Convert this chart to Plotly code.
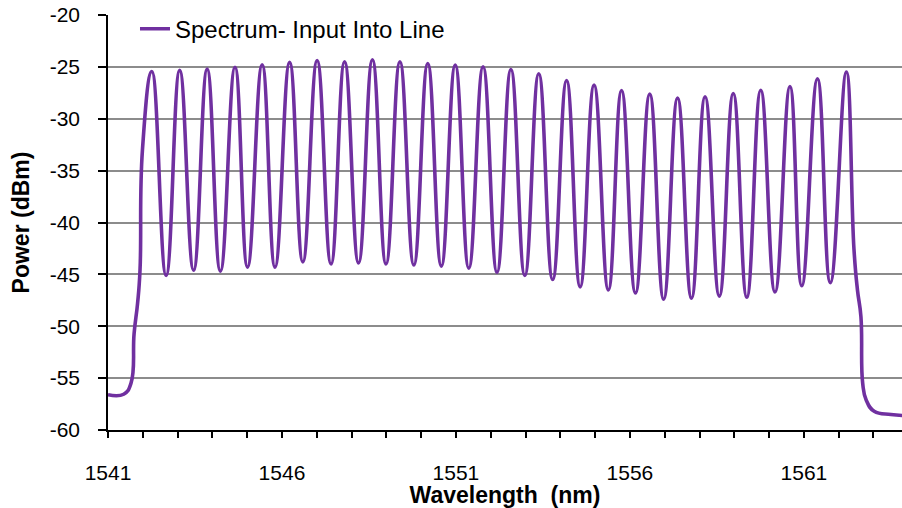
import plotly.graph_objects as go

# Edge of the band (rising side)
rise_x = [1541.0, 1541.45, 1541.66, 1541.75, 1541.85, 1541.92, 1541.99]
rise_y = [-56.6, -56.55, -55.5, -50.7, -47.8, -44.6, -33.0]

# Channel peaks
peak_x = [1542.26, 1543.06, 1543.85, 1544.65, 1545.43, 1546.22, 1547.01, 1547.80,
          1548.60, 1549.39, 1550.19, 1550.98, 1551.78, 1552.58, 1553.38, 1554.18,
          1554.97, 1555.76, 1556.57, 1557.37, 1558.16, 1558.97, 1559.76, 1560.60,
          1561.39, 1562.22]
peak_y = [-25.44, -25.34, -25.22, -25.03, -24.80, -24.57, -24.38, -24.51,
          -24.32, -24.51, -24.67, -24.83, -24.99, -25.25, -25.66, -26.31,
          -26.76, -27.27, -27.63, -28.00, -27.88, -27.56, -27.25, -26.89,
          -26.14, -25.50]

# Troughs between channels
trough_x = [1542.67, 1543.46, 1544.23, 1545.01, 1545.80, 1546.60, 1547.41, 1548.20,
            1548.99, 1549.79, 1550.58, 1551.37, 1552.18, 1552.98, 1553.78, 1554.57,
            1555.38, 1556.16, 1556.97, 1557.77, 1558.57, 1559.36, 1560.17, 1560.94,
            1561.76]
trough_y = [-45.1, -44.6, -44.7, -44.3, -44.3, -43.8, -44.0, -43.9,
            -44.0, -44.1, -44.2, -44.4, -44.8, -45.1, -45.5, -46.2,
            -46.5, -46.8, -47.4, -47.3, -47.1, -47.2, -46.7, -46.1,
            -45.8]

# Falling edge of the band
fall_x = [1562.44, 1562.54, 1562.64, 1562.69, 1562.79, 1563.02, 1563.5, 1563.84]
fall_y = [-42.6, -46.5, -49.1, -55.5, -57.1, -58.2, -58.5, -58.6]

# assemble the trace from the read points (peak / trough alternate)
xs, ys = list(rise_x), list(rise_y)
for i in range(len(peak_x)):
    xs.append(peak_x[i]); ys.append(peak_y[i])
    if i < len(trough_x):
        xs.append(trough_x[i]); ys.append(trough_y[i])
xs += fall_x
ys += fall_y

x_ticks = [1541, 1546, 1551, 1556, 1561]
y_ticks = [-60, -55, -50, -45, -40, -35, -30, -25, -20]
y_tick_text = ["-60", "-55", "-50", "-45", "-40", "-35", "-30", "-25", "-20"]

FONT = "Arial, Liberation Sans, sans-serif"
PURPLE = "#7030A0"

fig = go.Figure()
fig.add_trace(go.Scatter(
    x=xs, y=ys, mode="lines", name="Spectrum- Input Into Line",
    line=dict(color=PURPLE, width=3.6, shape="spline", smoothing=1.3),
))

fig.update_layout(
    width=902, height=508,
    margin=dict(l=108, r=0, t=15, b=78, autoexpand=False),
    paper_bgcolor="white", plot_bgcolor="white",
    font=dict(family=FONT, color="black"),
    showlegend=True,
    legend=dict(x=0.034, y=1.02, xanchor="left", yanchor="top",
                bgcolor="rgba(0,0,0,0)", font=dict(size=24, family=FONT),
                borderwidth=0, tracegroupgap=0),
)

fig.update_xaxes(
    range=[1541, 1563.82], automargin=False,
    tickvals=x_ticks, ticktext=[str(v) for v in x_ticks],
    ticks="outside", ticklen=6, tickwidth=1.5, tickcolor="black",
    minor=dict(dtick=1, tick0=1541, ticks="outside", ticklen=6, tickwidth=1.5, tickcolor="black", showgrid=False),
    showline=True, linecolor="black", linewidth=1.5,
    showgrid=False, zeroline=False,
    tickfont=dict(size=21, family=FONT),
    ticklabelstandoff=17,
    title=dict(text="<b>Wavelength  (nm)</b>", font=dict(size=23, family=FONT), standoff=11),
)
fig.update_yaxes(
    range=[-60, -20], automargin=False,
    tickvals=y_ticks, ticktext=y_tick_text,
    ticks="outside", ticklen=8, tickwidth=1.5, tickcolor="black",
    showline=True, linecolor="black", linewidth=1.5,
    showgrid=True, gridcolor="#8c8c8c", gridwidth=1.5,
    zeroline=False,
    tickfont=dict(size=21, family=FONT),
    ticklabelstandoff=14,
    title=dict(text="<b>Power (dBm)</b>", font=dict(size=23, family=FONT), standoff=14),
)

fig.write_html("out.html", config={"displayModeBar": False},
               post_script="document.body.style.margin='0';")
